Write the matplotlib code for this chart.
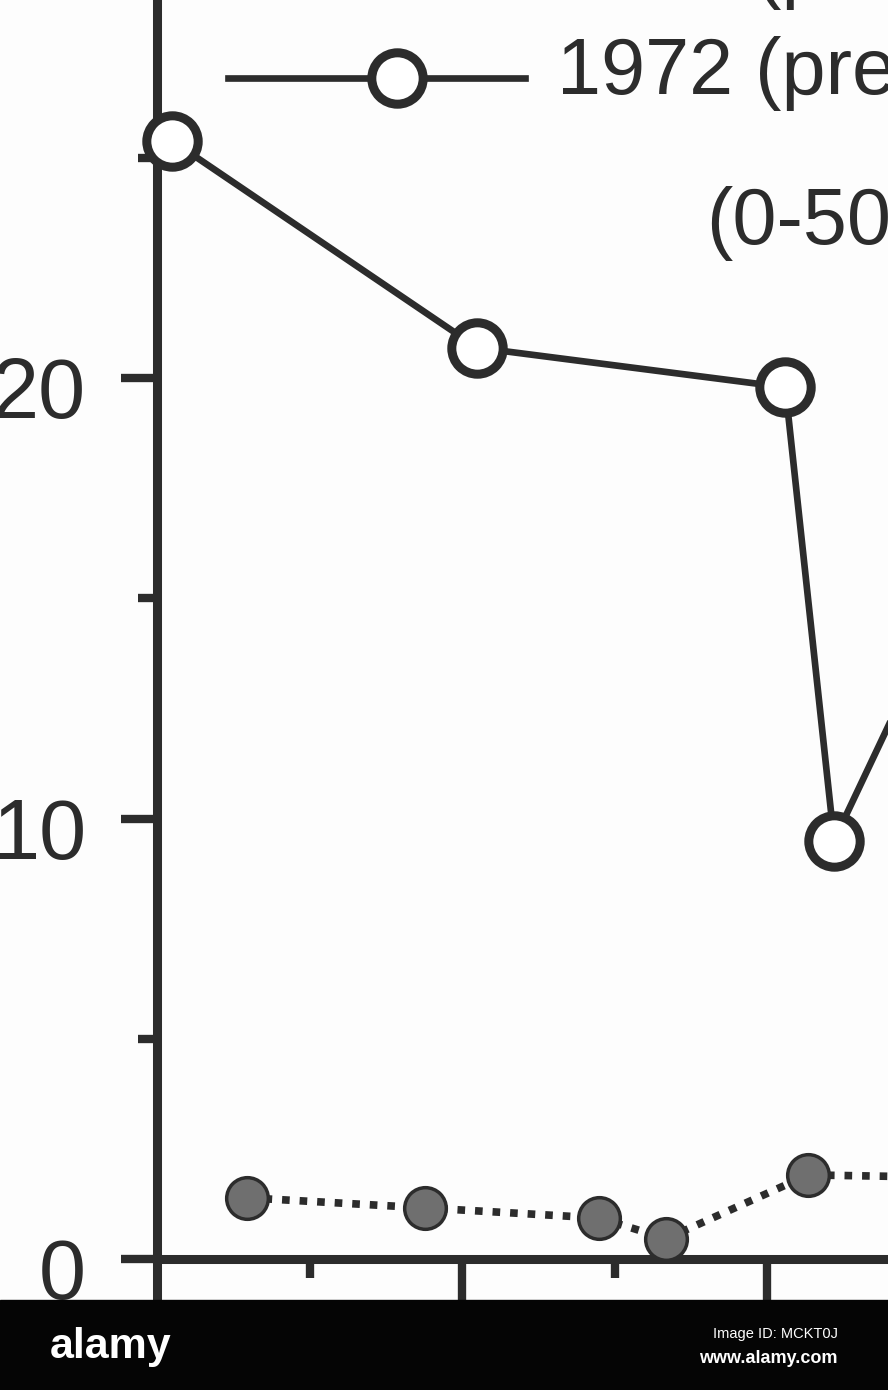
import matplotlib
matplotlib.use('Agg')
import matplotlib.pyplot as plt
from matplotlib.lines import Line2D
from matplotlib.patches import Rectangle
from matplotlib.transforms import ScaledTranslation

# 1972 series (open circles, solid line)
x_1972 = [0.10, 2.10, 4.12, 4.44, 5.00]
y_1972 = [25.4, 20.7, 19.8, 9.5, 13.6]

# second series (filled circles, dotted line)
x_other = [0.59, 1.76, 2.90, 3.34, 4.27, 5.10]
y_other = [1.38, 1.15, 0.92, 0.45, 1.90, 1.85]

y_major = [0, 10, 20]
y_minor = [5, 15, 25]
x_major = [2, 4]
x_minor = [1, 3]

legend_label = '1972 (pre'
legend_label_above = '1971 (p'
depth_label = '(0-50'

W, H = 888, 1390
ink = '#2c2c2c'
font = ['Liberation Sans', 'DejaVu Sans']

def fx(px):
    return px / W

def fy(py):
    return 1 - py / H

fig = plt.figure(figsize=(W / 100, H / 100), dpi=100)
fig.patch.set_facecolor('#fdfdfd')
ax = fig.add_axes([0, 90 / H, 1, 1300 / H])
ax.set_facecolor('#fdfdfd')

# pixel mapping: x_px = 157 + 152.5*x ; y_px = 1258.5 - 44*y
ax.set_xlim(-157 / 152.5, (W - 157) / 152.5)
ax.set_ylim(-41.5 / 44, 1258.5 / 44)

for s in ['top', 'right']:
    ax.spines[s].set_visible(False)
ax.spines['left'].set_position(('data', 0))
ax.spines['bottom'].set_position(('data', 0))
ax.spines['bottom'].set_bounds(0, (W - 157) / 152.5)
for s in ['left', 'bottom']:
    ax.spines[s].set_linewidth(6.5)
    ax.spines[s].set_color(ink)

ax.set_yticks(y_major)
ax.set_yticks(y_minor, minor=True)
ax.set_xticks(x_major)
ax.set_xticks(x_minor, minor=True)
ax.tick_params(axis='y', which='major', direction='out', length=26, width=6,
               color=ink, pad=25, labelsize=61, labelcolor=ink)
ax.tick_params(axis='y', which='minor', direction='out', length=14, width=6, color=ink)
ax.tick_params(axis='x', which='major', direction='out', length=34, width=6,
               color=ink, labelbottom=False)
ax.tick_params(axis='x', which='minor', direction='out', length=14, width=6, color=ink)
shift = ScaledTranslation(0, -9 / 100, fig.dpi_scale_trans)
for lab in ax.get_yticklabels():
    lab.set_family(font)
    lab.set_transform(lab.get_transform() + shift)

ax.plot(x_other, y_other, linestyle=(0, (1, 1.3)), lw=5.5, color=ink,
        marker='o', ms=30, mfc='#6f6f6f', mec=ink, mew=2.5, zorder=3)
ax.plot(x_1972, y_1972, '-', lw=4.8, color=ink,
        marker='o', ms=37, mfc='white', mec=ink, mew=6.5, zorder=4)

# legend drawn by hand at the top
fig.add_artist(Line2D([fx(228), fx(525)], [fy(78), fy(78)], transform=fig.transFigure,
                      color=ink, lw=4.8))
fig.add_artist(Line2D([fx(397)], [fy(78)], transform=fig.transFigure, marker='o',
                      ms=37, mfc='white', mec=ink, mew=6.5, lw=0))
fig.text(fx(557), fy(94), legend_label, fontsize=57, family=font, color=ink, va='baseline')
fig.text(fx(557), fy(-7), legend_label_above, fontsize=57, family=font, color=ink, va='baseline')
fig.text(fx(706), fy(244), depth_label, fontsize=57, family=font, color=ink, va='baseline')

# watermark bar
fig.add_artist(Rectangle((0, 0), 1, 90 / H, transform=fig.transFigure,
                         color='#050505', zorder=10))
fig.text(fx(50), fy(1358), 'alamy', fontsize=31, weight='bold', color='white',
         family=font, va='baseline', zorder=11)
fig.text(fx(838), fy(1338), 'Image ID: MCKT0J', fontsize=10.5, color='white',
         family=font, ha='right', va='baseline', zorder=11)
fig.text(fx(838), fy(1363), 'www.alamy.com', fontsize=13, weight='bold', color='white',
         family=font, ha='right', va='baseline', zorder=11)

fig.savefig('out.png', dpi=100, facecolor=fig.get_facecolor())
